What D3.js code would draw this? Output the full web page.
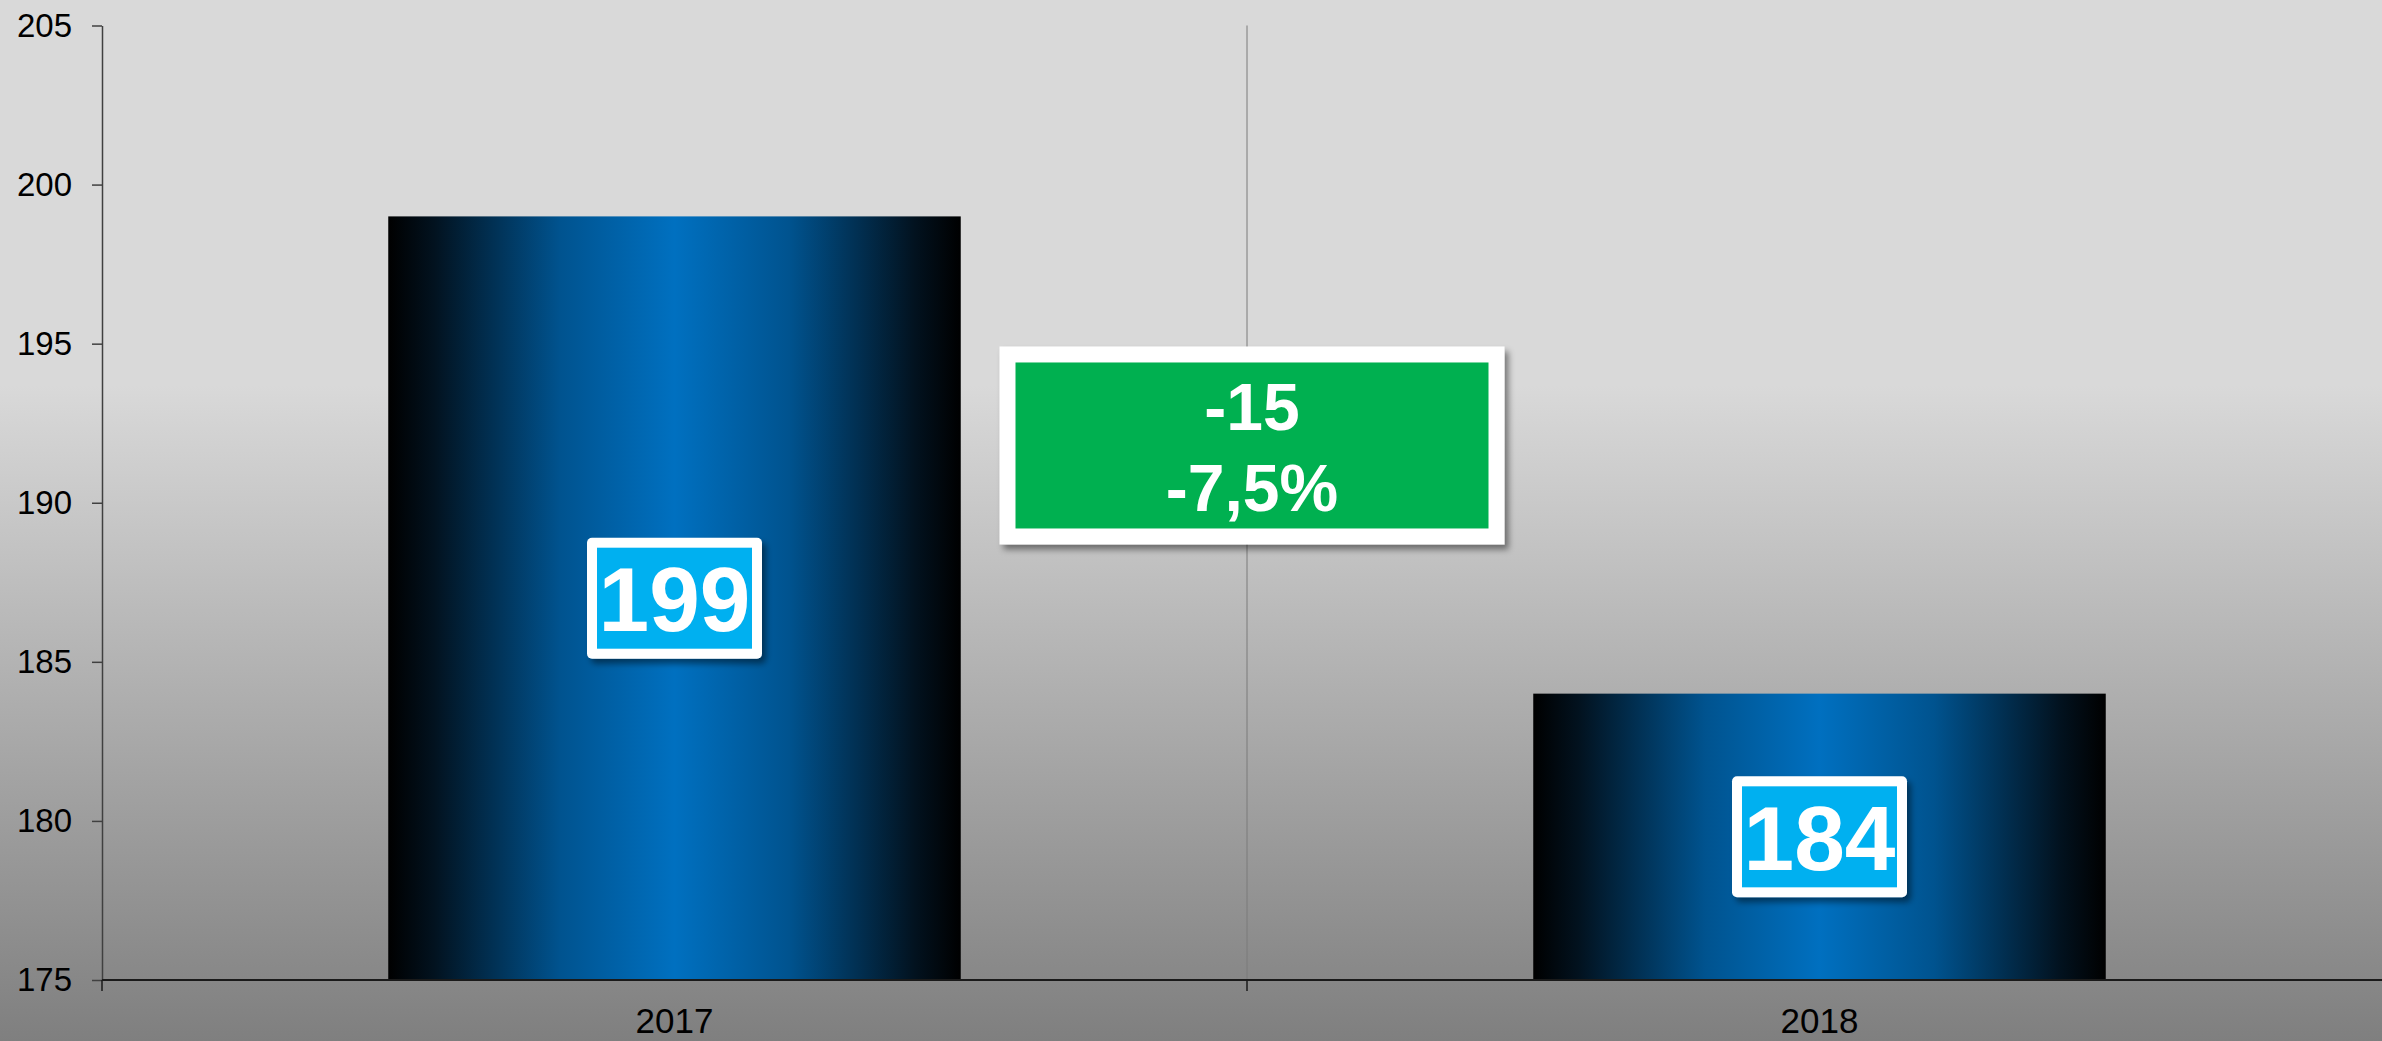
<!DOCTYPE html>
<html>
<head>
<meta charset="utf-8">
<script src="https://cdn.jsdelivr.net/npm/d3@7"></script>
<style>
  body { margin: 0; overflow: hidden; }
  text { font-family: "Liberation Sans", Arial, sans-serif; }
</style>
</head>
<body>
<div class="chart"></div>
<script>
//data
var years = ['2017', '2018'];
var counts = [199, 184];
var yTicks = [175, 180, 185, 190, 195, 200, 205];

//size of the page
var size = {'x' : 2382, 'y' : 1041};
var svg = d3.select('.chart')
  .append('svg')
    .attr('width', size.x)
    .attr('height', size.y);

var defs = svg.append('defs');

//background: flat light grey on top, darker toward the bottom
var bg = defs.append('linearGradient')
  .attr('id', 'bg').attr('x1', 0).attr('y1', 0).attr('x2', 0).attr('y2', 1);
bg.append('stop').attr('offset', '0').attr('stop-color', '#d9d9d9');
bg.append('stop').attr('offset', '0.37').attr('stop-color', '#d9d9d9');
bg.append('stop').attr('offset', '1').attr('stop-color', '#7f7f7f');

//bar: black edges, blue middle
var barGrad = defs.append('linearGradient')
  .attr('id', 'barGrad').attr('x1', 0).attr('y1', 0).attr('x2', 1).attr('y2', 0);
[[0, '#000000'], [0.08, '#02121f'], [0.3, '#00538f'], [0.5, '#0070c0'],
 [0.7, '#00538f'], [0.92, '#02121f'], [1, '#000000']].forEach(function(s){
  barGrad.append('stop').attr('offset', s[0]).attr('stop-color', s[1]);
});

//soft shadow for the label boxes
var shadow = defs.append('filter').attr('id', 'shadow')
  .attr('x', '-20%').attr('y', '-20%').attr('width', '140%').attr('height', '150%');
shadow.append('feDropShadow')
  .attr('dx', 4).attr('dy', 5).attr('stdDeviation', 3)
  .attr('flood-color', '#000').attr('flood-opacity', 0.45);

svg.append('rect')
  .attr('width', size.x).attr('height', size.y)
  .attr('fill', 'url(#bg)');

//scales
var x = d3.scaleBand()
  .domain(years)
  .range([102, 2392])
  .paddingInner(0.5)
  .paddingOuter(0.25);

var y = d3.scaleLinear()
  .domain([175, 205])
  .range([980, 25.5]);

var step = x.step();
var bounds = [x.range()[0], x.range()[0] + step, x.range()[1]];

//vertical divider between the years
svg.append('line')
  .attr('x1', bounds[1]).attr('x2', bounds[1])
  .attr('y1', y(205)).attr('y2', y(175))
  .attr('stroke', '#7a7a7a').attr('stroke-width', 1);

//bars
svg.selectAll('.bar')
  .data(counts)
  .enter()
  .append('rect')
    .attr('class', 'bar')
    .attr('x', function(d, i){ return x(years[i]) })
    .attr('y', function(d){ return y(d) })
    .attr('width', x.bandwidth())
    .attr('height', function(d){ return y(175) - y(d) })
    .attr('fill', 'url(#barGrad)');

//y axis
var yAxis = svg.append('g')
  .attr('transform', 'translate(102,0)')
  .call(d3.axisLeft(y).tickValues(yTicks).tickSize(10).tickSizeOuter(0).tickPadding(20));
yAxis.select('.domain').attr('stroke', '#404040').attr('stroke-width', 1.5);
yAxis.selectAll('.tick line').attr('stroke', '#404040').attr('stroke-width', 1.5);
yAxis.selectAll('.tick text')
  .attr('font-size', 33)
  .attr('fill', '#000')
  .style('font-family', '"Liberation Sans", Arial, sans-serif');

//x axis line and tick marks at the band edges
svg.append('line')
  .attr('x1', bounds[0]).attr('x2', size.x)
  .attr('y1', y(175)).attr('y2', y(175))
  .attr('stroke', '#1a1a1a').attr('stroke-width', 2);

svg.selectAll('.xtick')
  .data(bounds)
  .enter()
  .append('line')
    .attr('class', 'xtick')
    .attr('x1', function(d){ return d }).attr('x2', function(d){ return d })
    .attr('y1', y(175)).attr('y2', y(175) + 11)
    .attr('stroke', '#1a1a1a').attr('stroke-width', 1.5);

svg.selectAll('.xlabel')
  .data(years)
  .enter()
  .append('text')
    .attr('class', 'xlabel')
    .attr('x', function(d){ return x(d) + x.bandwidth() / 2 })
    .attr('y', 1033)
    .attr('text-anchor', 'middle')
    .attr('font-size', 35)
    .attr('fill', '#000')
    .text(function(d){ return d });

//value labels in the middle of each bar
var boxW = 175, boxH = 121, border = 10;
var labels = svg.selectAll('.vlabel')
  .data(counts)
  .enter()
  .append('g')
    .attr('class', 'vlabel')
    .attr('transform', function(d, i){
      var cx = x(years[i]) + x.bandwidth() / 2;
      var cy = (y(d) + y(175)) / 2;
      return 'translate(' + cx + ',' + cy + ')';
    });

labels.append('rect')
  .attr('x', -boxW / 2).attr('y', -boxH / 2)
  .attr('width', boxW).attr('height', boxH)
  .attr('rx', 5)
  .attr('fill', '#fff')
  .attr('filter', 'url(#shadow)');

labels.append('rect')
  .attr('x', -boxW / 2 + border).attr('y', -boxH / 2 + border)
  .attr('width', boxW - 2 * border).attr('height', boxH - 2 * border)
  .attr('fill', '#00b0f0');

labels.append('text')
  .attr('y', 33)
  .attr('text-anchor', 'middle')
  .attr('font-size', 91)
  .attr('font-weight', 'bold')
  .attr('fill', '#fff')
  .text(function(d){ return d });

//change box between the bars
var diff = counts[1] - counts[0];
var pct = (diff / counts[0] * 100).toFixed(1).replace('.', ',') + '%';

var change = svg.append('g')
  .attr('transform', 'translate(' + (bounds[1] + 5) + ',' + y(191.8) + ')');

change.append('rect')
  .attr('x', -252.5).attr('y', -99)
  .attr('width', 505).attr('height', 198)
  .attr('fill', '#fff')
  .attr('filter', 'url(#shadow)');

change.append('rect')
  .attr('x', -236.5).attr('y', -83)
  .attr('width', 473).attr('height', 166)
  .attr('fill', '#00b050');

change.append('text')
  .attr('y', -15)
  .attr('text-anchor', 'middle')
  .attr('font-size', 66)
  .attr('font-weight', 'bold')
  .attr('fill', '#fff')
  .text(diff);

change.append('text')
  .attr('y', 66)
  .attr('text-anchor', 'middle')
  .attr('font-size', 66)
  .attr('font-weight', 'bold')
  .attr('fill', '#fff')
  .text(pct);
</script>
</body>
</html>
